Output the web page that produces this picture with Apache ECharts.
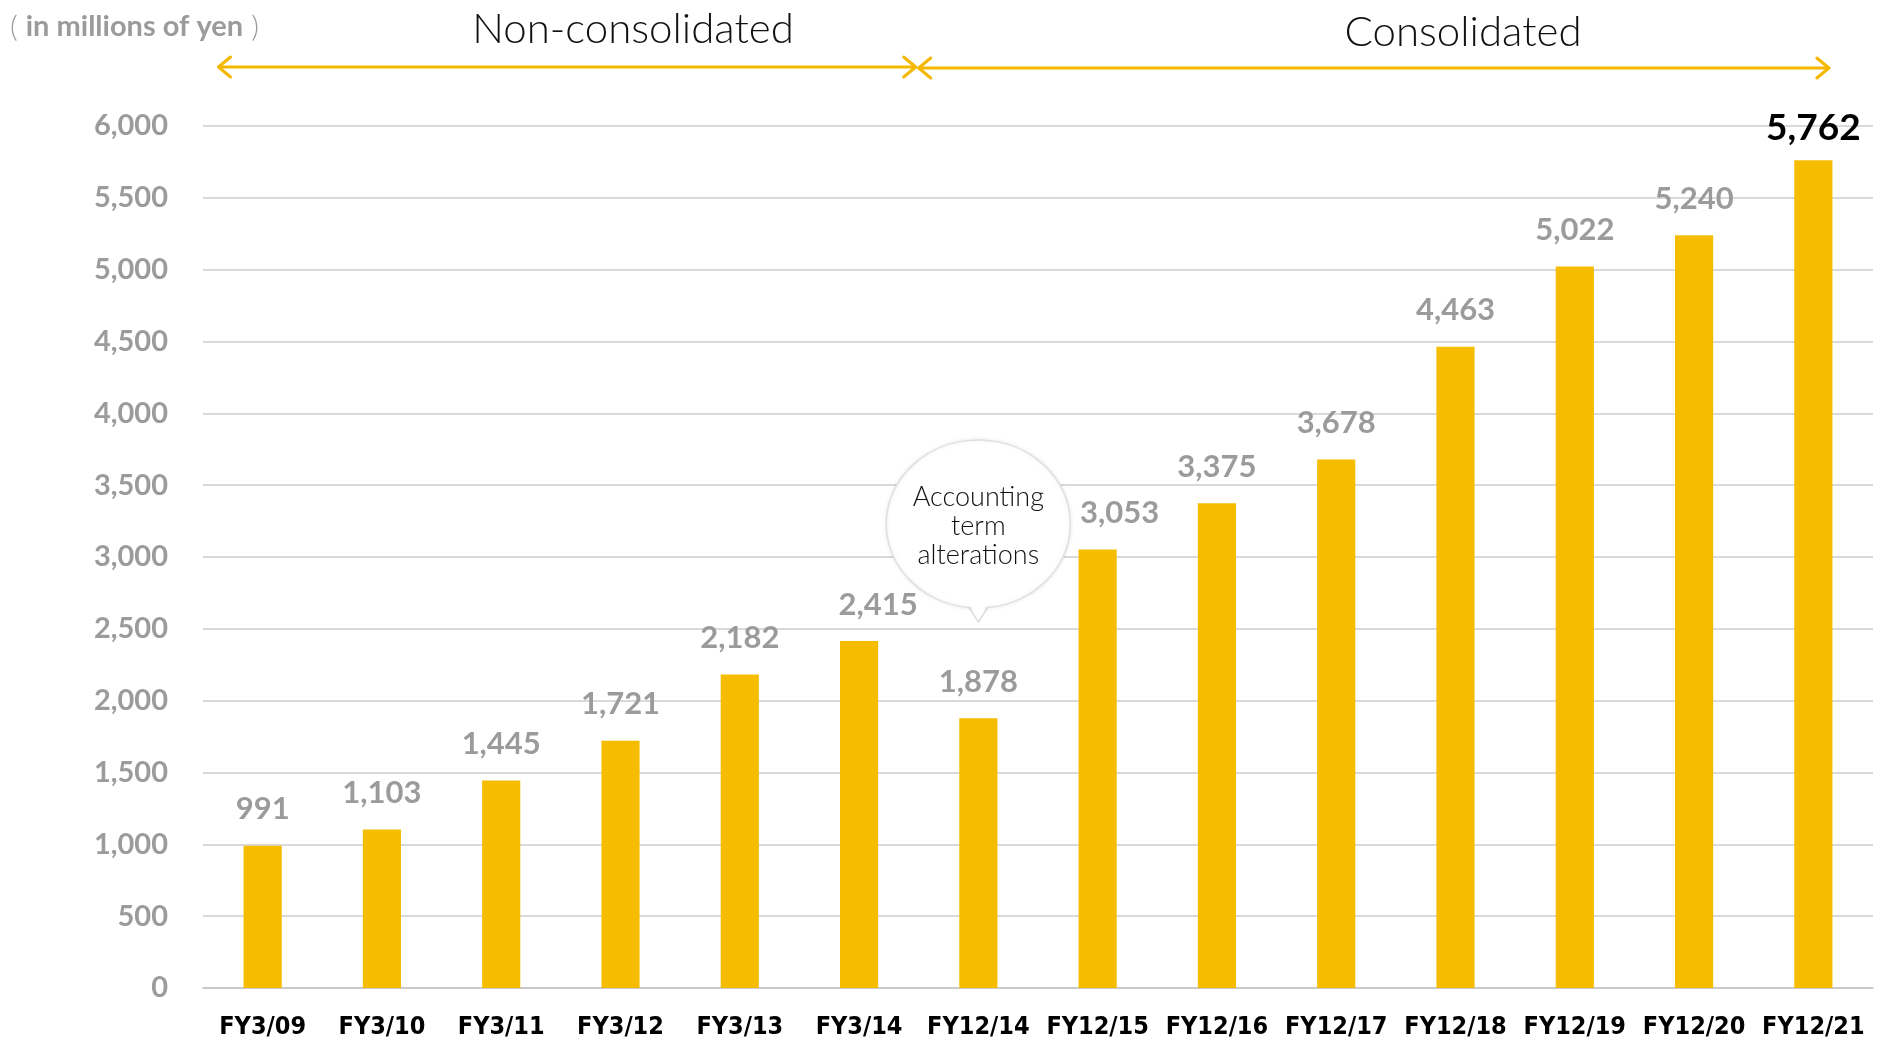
<!DOCTYPE html>
<html>
<head>
<meta charset="utf-8">
<script src="https://cdn.jsdelivr.net/npm/echarts@6/dist/echarts.min.js"></script>
<style>
  html, body { margin: 0; padding: 0; background: #ffffff; }
  #chart { width: 1877px; height: 1040px; }
</style>
</head>
<body>
<div id="chart"></div>
<script>
// Net sales by fiscal year (millions of yen)
const categories = ['FY3/09', 'FY3/10', 'FY3/11', 'FY3/12', 'FY3/13', 'FY3/14', 'FY12/14',
                    'FY12/15', 'FY12/16', 'FY12/17', 'FY12/18', 'FY12/19', 'FY12/20', 'FY12/21'];
const sales = [991, 1103, 1445, 1721, 2182, 2415, 1878, 3053, 3375, 3678, 4463, 5022, 5240, 5762];
const yTicks = { min: 0, max: 6000, interval: 500 };
const unitText = 'in millions of yen';
const periodNames = ['Non-consolidated', 'Consolidated'];
const calloutText = 'Accounting\nterm\nalterations';
const calloutCategory = 'FY12/14';

const BAR = '#F6BD00';
const ARROW = '#F5B800';
const GRAY = '#9B9B9B';
const numFont = "'Lato', 'Noto Sans', sans-serif";
const catFont = "'Liberation Sans Narrow', 'DejaVu Sans Condensed', 'Arial Narrow', sans-serif";
const thinFont = "'Lato', 'Open Sans', sans-serif";

// value labels nudged sideways so they clear the callout bubble
const labelNudge = { 'FY3/14': 19, 'FY12/15': 22 };

const fmt = v => Number(v).toLocaleString('en-US');
const lastIdx = sales.length - 1;

const chart = echarts.init(document.getElementById('chart'), null, { renderer: 'canvas' });

chart.setOption({
  backgroundColor: '#ffffff',
  animation: false,
  grid: { left: 203, right: 4, top: 126, bottom: 52, containLabel: false },
  xAxis: {
    type: 'category',
    data: categories,
    axisLine: { show: true, lineStyle: { color: '#c4c4c4', width: 1.5 } },
    axisTick: { show: false },
    axisLabel: {
      interval: 0,
      color: '#000', fontFamily: catFont, fontWeight: 'bold', fontSize: 25, margin: 27
    }
  },
  yAxis: {
    type: 'value',
    min: yTicks.min, max: yTicks.max, interval: yTicks.interval,
    axisLine: { show: false },
    axisTick: { show: false },
    splitLine: { lineStyle: { color: '#cccccc', width: 1.5 } },
    axisLabel: {
      color: GRAY, fontFamily: numFont, fontWeight: 'bold', fontSize: 29, margin: 35,
      formatter: fmt
    }
  },
  series: [{
    type: 'bar',
    barWidth: '32%',
    itemStyle: { color: BAR },
    data: sales.map((v, i) => {
      const item = { value: v };
      const nudge = labelNudge[categories[i]];
      if (nudge) item.label = { offset: [nudge, 0] };
      if (i === lastIdx) item.label = { color: '#000', fontSize: 37, fontWeight: 'bold', distance: 14 };
      return item;
    }),
    label: {
      show: true, position: 'top', distance: 21,
      color: GRAY, fontFamily: numFont, fontWeight: 'bold', fontSize: 31,
      formatter: p => fmt(p.value)
    }
  }]
});

// Period arrows, headings, and the callout bubble are laid out from the axis positions
function px(idx) { return chart.convertToPixel({ xAxisIndex: 0 }, categories[idx]); }
const band = px(1) - px(0);
const splitX = (px(5) + px(6)) / 2 - 3;
const leftStart = px(0) - band * 0.37;
const rightEnd = px(lastIdx) + band * 0.13;
const arrowY = 67;

function arrowLine(x1, x2, y) {
  const head = 12, half = 10;
  const style = { stroke: ARROW, lineWidth: 3, fill: null, lineCap: 'round', lineJoin: 'round' };
  return [
    { type: 'line', shape: { x1: x1, y1: y, x2: x2, y2: y }, style: style },
    { type: 'polyline', shape: { points: [[x1 + head, y - half], [x1, y], [x1 + head, y + half]] }, style: style },
    { type: 'polyline', shape: { points: [[x2 - head, y - half], [x2, y], [x2 - head, y + half]] }, style: style }
  ];
}

const cx = chart.convertToPixel({ xAxisIndex: 0 }, calloutCategory);
const cy = 524, rx = 92, ry = 84, tipY = 622;

chart.setOption({
  graphic: [
    { type: 'text', left: 10, top: 12,
      style: {
        text: '{p|(}{t|' + unitText + '}{p|)}',
        rich: {
          p: { fill: GRAY, font: "300 30px 'Lato', 'Noto Sans', sans-serif", padding: [0, 8, 0, 8] },
          t: { fill: GRAY, font: "bold 29px 'Lato', 'Noto Sans', sans-serif" }
        }
      } },
    { type: 'text', x: 633, y: 29,
      style: { text: periodNames[0], fill: '#111', font: "300 42px " + thinFont, align: 'center', verticalAlign: 'middle' } },
    { type: 'text', x: 1463, y: 32,
      style: { text: periodNames[1], fill: '#111', font: "300 42px " + thinFont, align: 'center', verticalAlign: 'middle' } },
    ...arrowLine(leftStart, splitX, arrowY),
    ...arrowLine(splitX + 3, rightEnd, arrowY + 1),
    // callout: tail then ellipse, then text on top
    { type: 'polygon', z: 10,
      shape: { points: [[cx - 14, cy + ry - 8], [cx, tipY], [cx + 14, cy + ry - 8]] },
      style: { fill: '#fff', stroke: '#dcdcdc', lineWidth: 1.5 } },
    { type: 'ellipse', z: 11,
      shape: { cx: cx, cy: cy, rx: rx, ry: ry },
      style: { fill: '#fff', stroke: '#e0e0e0', lineWidth: 1.5,
               shadowBlur: 4, shadowColor: 'rgba(0,0,0,0.08)' } },
    { type: 'polygon', z: 12,
      shape: { points: [[cx - 12, cy + ry - 10], [cx, tipY - 2], [cx + 12, cy + ry - 10]] },
      style: { fill: '#fff' } },
    { type: 'text', z: 13, x: cx, y: cy + 2,
      style: { text: calloutText, fill: '#111', font: "300 27px " + thinFont,
               align: 'center', verticalAlign: 'middle', lineHeight: 29 } }
  ]
});
</script>
</body>
</html>
